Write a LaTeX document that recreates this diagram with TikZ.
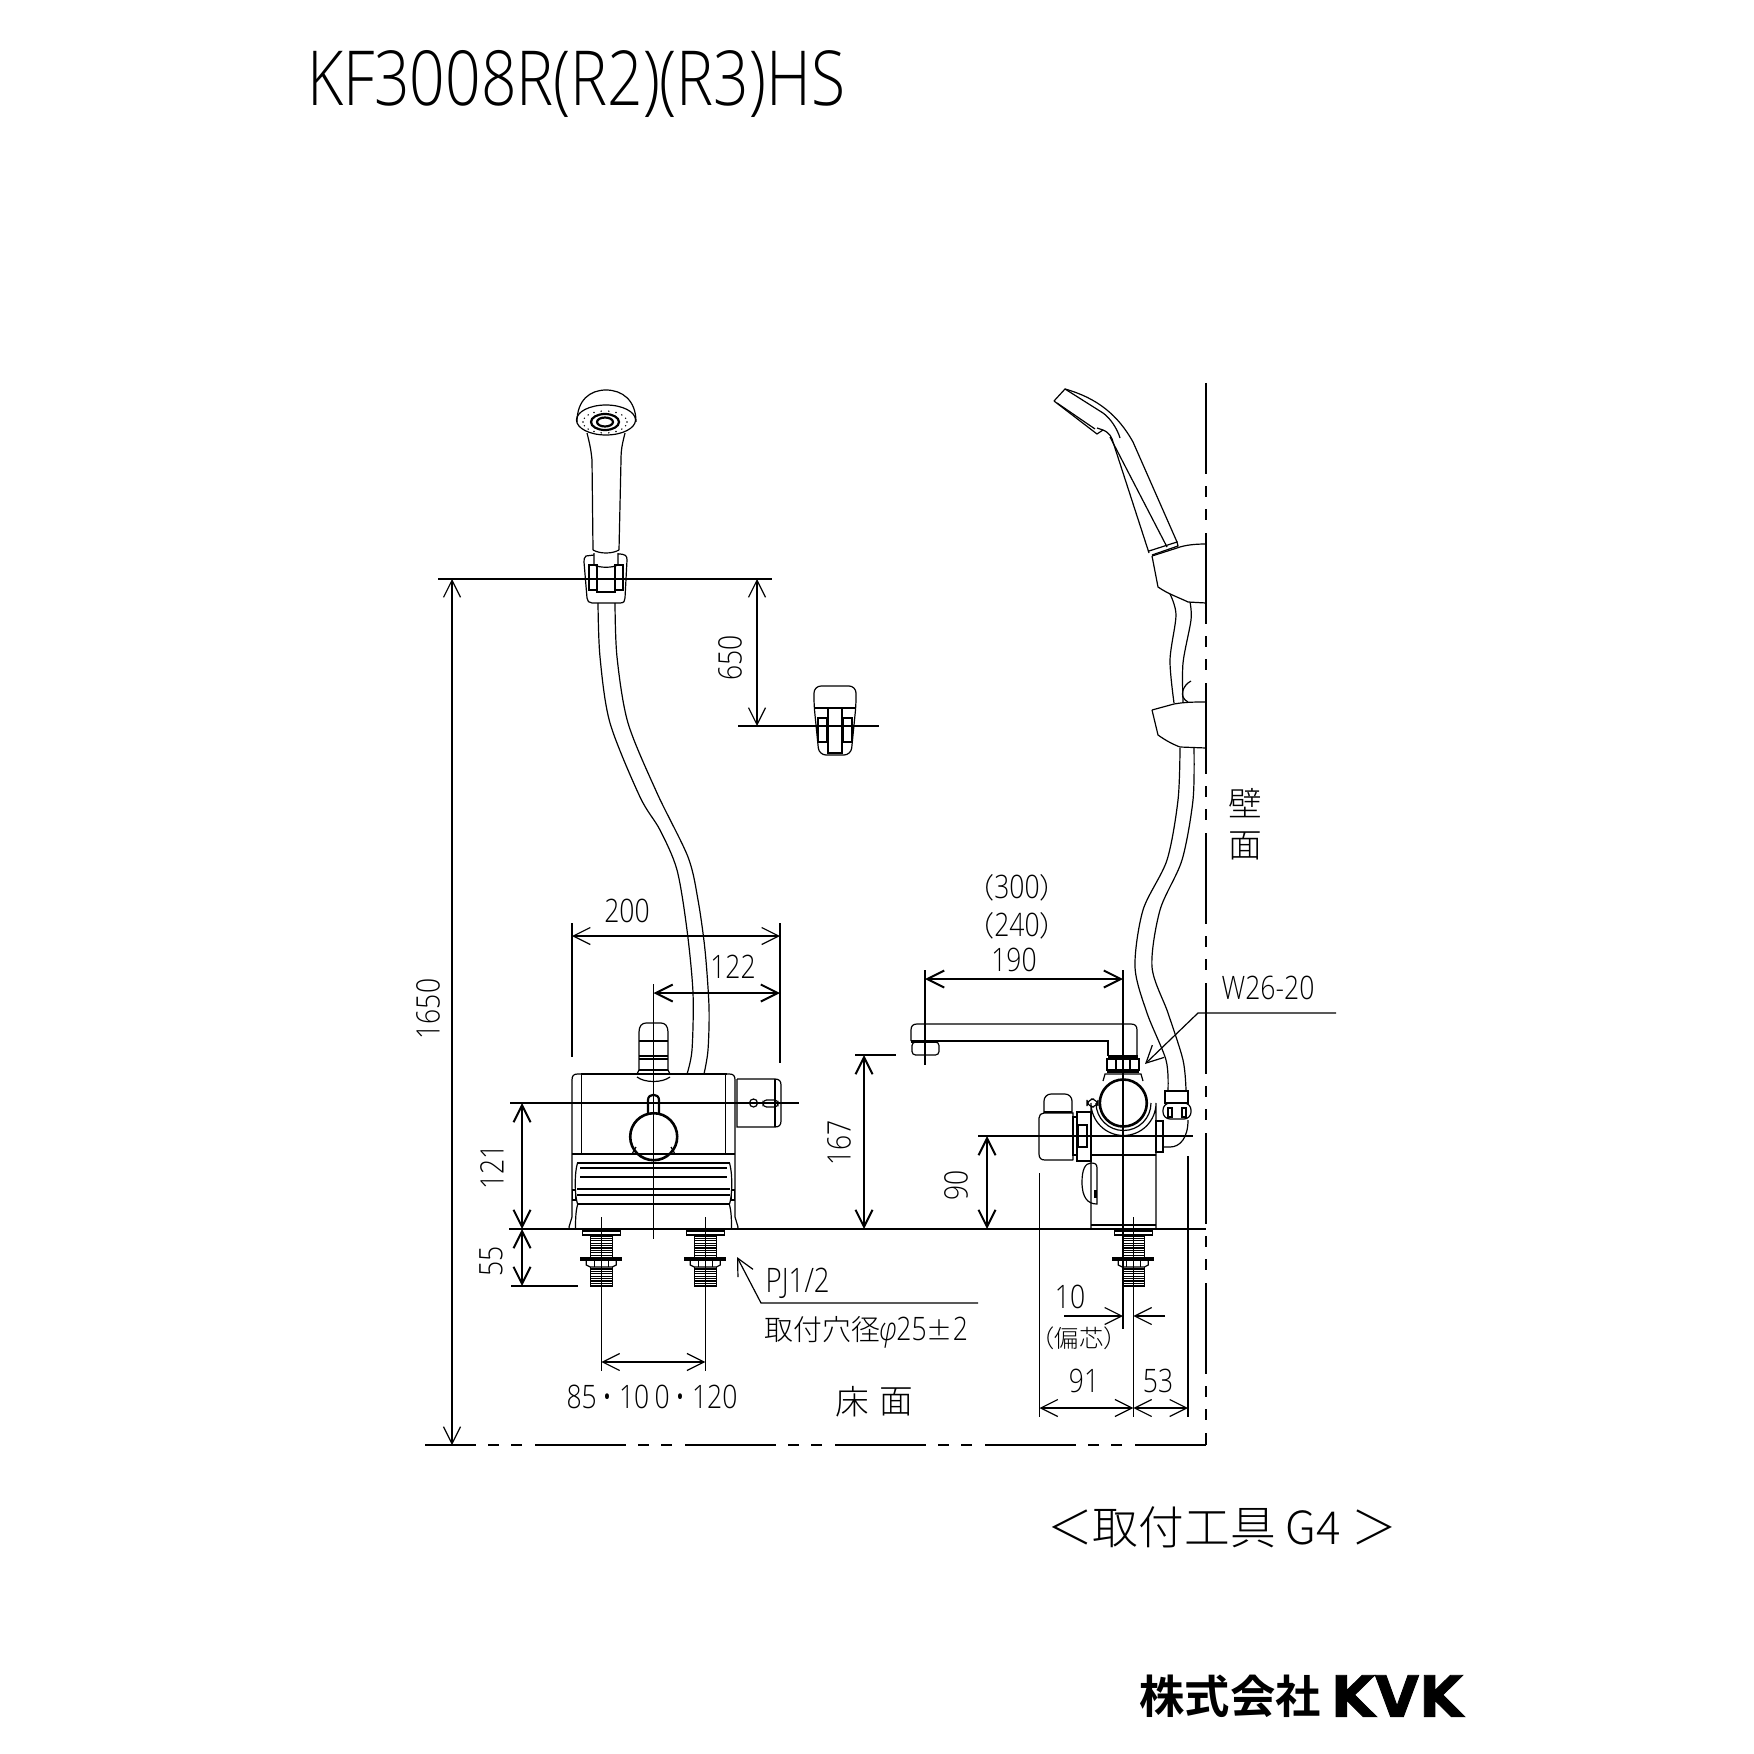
\documentclass[tikz,border=0pt]{standalone}
\usepackage{fontspec}
\setmainfont{Open Sans Light}[FakeStretch=0.82]
\newfontfamily\jpfont{Noto Sans CJK JP Light}
\newfontfamily\jpbold{Noto Sans CJK JP Bold}
\newfontfamily\logofont{DejaVu Sans Bold}[FakeStretch=1,FakeBold=1.5]
\usetikzlibrary{arrows.meta}
\tikzset{
  part/.style={line width=.12mm},
  heavy/.style={line width=.22mm},
  dimthin/.style={line width=.12mm,{Straight Barb[length=1.7mm,width=1.7mm]}-{Straight Barb[length=1.7mm,width=1.7mm]}},
  dimbold/.style={line width=.2mm,{Straight Barb[length=1.7mm,width=1.7mm]}-{Straight Barb[length=1.7mm,width=1.7mm]}},
  numlabel/.style={inner sep=0pt,font=\fontsize{9.2pt}{11pt}\selectfont},
  jplabel/.style={inner sep=0pt,font=\jpfont\fontsize{9.6pt}{12pt}\selectfont},
}
\begin{document}
\begin{tikzpicture}[x=0.1mm,y=-0.1mm]
        \useasboundingbox (0,0) rectangle (1754,1754);

        % title and company name
        \node[inner sep=0pt,font=\fontsize{21.6pt}{24pt}\selectfont] (title) at (576,84) {KF3008R(R2)(R3)HS};
        \node[inner sep=0pt,font=\jpfont\fontsize{13pt}{15pt}\selectfont] (toolnote) at (1222,1527) {＜取付工具 G4 ＞};
        \node[inner sep=0pt,font=\jpbold\fontsize{12.9pt}{14pt}\selectfont] (company) at (1230,1696) {株式会社};
        \node[inner sep=0pt,font=\logofont\fontsize{16.2pt}{18pt}\selectfont] (brand) at (1397,1696) {KVK};

        % floor and wall
        \draw[heavy] (509,1229) -- (1206,1229);
        \draw[line width=.24mm,dash pattern=on 9.1mm off 1.2mm on 1.1mm off 1.2mm on 1.1mm off 1.3mm,dash phase=4mm] (425,1445) -- (1206,1445);
        \draw[line width=.24mm,dash pattern=on 9.1mm off 1.2mm on 1.1mm off 1.2mm on 1.1mm off 1.3mm] (1206,383) -- (1206,1445);
        \node[jplabel] (floorA) at (852,1402) {床};
        \node[jplabel] (floorB) at (896,1402) {面};
        \node[jplabel] (wallA) at (1245,803) {壁};
        \node[jplabel] (wallB) at (1245,846) {面};

        % overall heights
        \draw[heavy] (438,579) -- (772,579);
        \draw[heavy] (738,726) -- (879,726);
        \draw[dimthin] (452,579) -- (452,1445);
        \node[numlabel,rotate=90] (h1650) at (428,1009) {1650};
        \draw[dimthin] (757,579) -- (757,726);
        \node[numlabel,rotate=90] (h650) at (730,658) {650};

        % front view, upper shower
        \draw[part] (577,422) .. controls (577,400) and (590,390) .. (606,390) .. controls (622,390) and (636,400) .. (636,422);
        \draw[part] (606,420) ellipse (29.5 and 15);
        \draw[heavy] (605,422) ellipse (14 and 8);
        \draw[heavy] (605,422) ellipse (8 and 4.5);
        \foreach \a in {0,20,...,340} {
          \fill (605,422) ++(\a:22 and 11) circle (.8);
        }
        \draw[part] (587,433) .. controls (590,445) and (591,450) .. (592,460) -- (593,550);
        \draw[part] (625,433) .. controls (622,445) and (621,450) .. (621,460) -- (619,550);
        \draw[part] (593,550) .. controls (600,554) and (612,554) .. (619,550);
        \draw[part] (594,553) -- (594,565) .. controls (600,568) and (612,568) .. (618,565) -- (618,553);

        % front view, holder on the upper line
        \draw[part] (594,555) -- (586,556) .. controls (584,557) and (584,560) .. (584,562) -- (587,598) .. controls (587,601) and (589,603) .. (592,603) -- (620,603) .. controls (624,603) and (625,601) .. (625,598) -- (627,560) .. controls (627,556) and (626,554) .. (618,554);
        \draw[part] (597,565) -- (597,592) -- (615,592) -- (615,565);
        \draw[part] (589,565) rectangle (597,590);
        \draw[part] (615,565) rectangle (623,590);

        % front view, hose
        \draw[part] plot[smooth] coordinates {(598,603) (600,657) (610,723) (640,797) (660,830) (677,870) (687,930) (693,993) (692,1050) (687,1074)};
        \draw[part] plot[smooth] coordinates {(615,603) (617,657) (628,723) (657,793) (688,857) (698,900) (705,950) (709,1007) (708,1050) (704,1074)};

        % holder on the lower line
        \draw[part,rounded corners=2] (819,755) -- (814,705) -- (814,686) -- (856,686) -- (856,705) -- (851,755) -- cycle;
        \draw[part] (815,708) -- (855,708);
        \draw[heavy] (828,708) rectangle (842,753);
        \draw[part] (818,718) rectangle (827,742);
        \draw[part] (843,718) rectangle (852,742);

        % front view, body
        \draw[part] (581,1074) -- (727,1074);
        \foreach \mir in {1,-1} {
          \begin{scope}[shift={(653.5,0)},xscale=\mir]
            \draw[part] (-72,1074) -- (-72,1154);
            \draw[part] (-81.5,1080) .. controls (-81.5,1076) and (-80,1074) .. (-76,1074) -- (-72,1074);
            \draw[part] (-81.5,1080) -- (-81.5,1217) -- (-84.5,1227) -- (-84,1229);
            \draw[part] (-76,1205) .. controls (-78,1212) and (-78,1222) .. (-78,1229);
            \draw[part] (-76,1163) .. controls (-79,1172) and (-79,1195) .. (-76,1204);
            \draw[part] (-81,1190) rectangle (-78,1200);
          \end{scope}
        }
        \draw[part] (572,1154) -- (735,1154);
        \foreach \yy in {1163,1189,1195,1204} {
          \draw[part] (577,\yy) -- (730,\yy);
        }
        \foreach \yy in {1168,1177} {
          \draw[heavy] (580,\yy) -- (727,\yy);
        }

        % front view, handle
        \draw[line width=.26mm] (653.7,1136.7) circle (23.5);
        \draw[heavy] (648,1113) -- (648,1100) .. controls (648,1093) and (659,1093) .. (659,1100) -- (659,1113);
        \draw[part] (632,1154) -- (636,1147);
        \draw[part] (675,1154) -- (671,1147);

        % front view, top cartridge
        \draw[part] (639,1070) -- (639,1032) .. controls (639,1026) and (642,1023) .. (646,1023) -- (661,1023) .. controls (665,1023) and (668,1026) .. (668,1032) -- (668,1070);
        \foreach \yy in {1041,1056,1070} {
          \draw[heavy] (639,\yy) -- (668,\yy);
        }
        \draw[part] (639,1059) -- (668,1059);
        \draw[part] (637,1074) -- (639,1070);
        \draw[part] (670,1074) -- (668,1070);
        \draw[part] (637,1077) .. controls (645,1083) and (662,1083) .. (670,1077);

        % front view, side knob
        \draw[part] (737,1079) -- (775,1079) .. controls (779,1079) and (781,1081) .. (781,1085) -- (781,1121) .. controls (781,1125) and (779,1127) .. (775,1127) -- (737,1127) -- (737,1079);
        \draw[part] (775,1079) -- (775,1127);
        \draw[part] (753.5,1103) circle (4);
        \draw[part,rounded corners=1] (763,1100) rectangle (778,1107);

        % front view, legs and right side view leg
        \foreach \cx in {601.3,705.3,1133.3} {
          \begin{scope}[shift={(\cx,1229)}]
            \draw[part] (-19,2) rectangle (19,6);
            \foreach \yy in {7,9.4,...,27} {
              \draw[part] (-11,\yy) -- (11,\yy);
            }
            \draw[part] (-11,6) -- (-11,28);
            \draw[part] (11,6) -- (11,28);
            \fill (-21,28) rectangle (21,31.5);
            \draw[part] (-15,32) -- (-15,36) -- (-11,38) -- (11,38) -- (15,36) -- (15,32);
            \draw[part] (-7,32) -- (-7,38);
            \draw[part] (7,32) -- (7,38);
            \foreach \yy in {40,42.4,...,56} {
              \draw[part] (-11,\yy) -- (11,\yy);
            }
            \draw[part] (-11,38) -- (-11,57) -- (11,57) -- (11,38);
          \end{scope}
        }

        % front view, dimensions
        \draw[part] (572,923) -- (572,1057);
        \draw[part] (780,923) -- (780,1063);
        \draw[dimthin] (572,936) -- (780,936);
        \node[numlabel] (w200) at (627,911) {200};
        \draw[part] (653.5,984) -- (653.5,1239);
        \draw[dimbold] (653.5,993) -- (780,993);
        \node[numlabel] (w122) at (733,967) {122};
        \draw[part] (510,1103) -- (799,1103);
        \draw[dimbold] (522,1103) -- (522,1229);
        \node[numlabel,rotate=90] (h121) at (492,1167) {121};
        \draw[part] (511,1286) -- (578,1286);
        \draw[dimbold] (522,1229) -- (522,1286);
        \node[numlabel,rotate=90] (h55) at (491,1261) {55};
        \draw[part] (601.3,1217) -- (601.3,1371);
        \draw[part] (705.3,1217) -- (705.3,1371);
        \draw[dimthin] (601.3,1362) -- (705.3,1362);
        \node[numlabel] (pitch) at (652,1397) {85\,• 10\,0\,• 120};

        % mounting note
        \draw[part,{Straight Barb[length=1.7mm,width=1.7mm]}-] (737,1257) -- (761,1303) -- (978,1303);
        \node[numlabel,anchor=base west,font=\fontsize{9.6pt}{11pt}\selectfont] (pj) at (765,1292) {PJ1/2};
        \node[numlabel,anchor=base west] (holenote) at (764,1340) {{\jpfont\fontsize{8.2pt}{10pt}\selectfont 取付穴径}\textit{φ}25{\jpfont\fontsize{7.4pt}{10pt}\selectfont ±}2};

        % side view, shower
        \draw[part] (1054,401) -- (1065,389) .. controls (1097,398) and (1118,415) .. (1133,442) -- (1177,542);
        \draw[part] (1054,401) -- (1097,434) -- (1103,430);
        \draw[part] (1057,403) -- (1095,429);
        \draw[part] (1065,389) -- (1103,413) .. controls (1110,418) and (1117,428) .. (1120,438);
        \draw[part] (1097,428) -- (1103,430) .. controls (1110,433) and (1112,438) .. (1113,442) -- (1149,553);
        \draw[part] (1110,437) -- (1167,547);
        \draw[part] (1149,551) -- (1177,542) -- (1178,546) -- (1152,555);

        % side view, slide bar brackets
        \draw[part] (1152,556) -- (1158,587) .. controls (1168,594) and (1180,598) .. (1188,602) -- (1206,603);
        \draw[part] (1152,556) -- (1177,548) .. controls (1185,545) and (1195,544) .. (1206,544);
        \draw[part] (1152,710) -- (1158,735) .. controls (1165,740) and (1172,744) .. (1180,747) -- (1206,748);
        \draw[part] (1152,710) -- (1174,704) .. controls (1185,702) and (1195,702) .. (1206,702);
        \draw[part] plot[smooth] coordinates {(1170,594) (1176,615) (1170,660) (1174,703)};
        \draw[part] plot[smooth] coordinates {(1190,602) (1191,620) (1183,663) (1183,702)};
        \draw[part] (1191,681) .. controls (1183,685) and (1178,697) .. (1188,702);

        % side view, hose
        \draw[part] plot[smooth] coordinates {(1180,748) (1178,800) (1167,860) (1143,910) (1135,967) (1147,1013) (1166,1060) (1168,1090)};
        \draw[part] plot[smooth] coordinates {(1194,748) (1193,800) (1182,860) (1160,910) (1152,967) (1168,1013) (1183,1060) (1186,1090)};

        % side view, spout
        \draw[part] (911,1041) -- (911,1030) .. controls (911,1026) and (913,1024) .. (917,1024) -- (1131,1024) .. controls (1135,1024) and (1137,1026) .. (1137,1030) -- (1137,1056);
        \draw[part] (911,1041) -- (1108,1041) -- (1108,1056);
        \draw[heavy] (911,1042) -- (938,1042);
        \draw[part,rounded corners=1] (912,1042) rectangle (939,1055);
        \draw[line width=.4mm] (1108,1057) -- (1138,1057);
        \draw[part] (1107,1059) rectangle (1139,1070);
        \draw[part] (1116,1059) -- (1116,1070);
        \draw[part] (1130,1059) -- (1130,1070);
        \draw[line width=.35mm] (1107,1071.5) -- (1139,1071.5);
        \draw[part] (1103,1081) -- (1105,1074) -- (1141,1074) -- (1143,1081);

        % side view, valve body
        \draw[part] (1091,1228) -- (1091,1103) arc[start angle=180,end angle=0,radius=32.5] -- (1156,1228);
        \draw[part] (1091,1225) -- (1156,1225);
        \draw[part] (1091,1155) -- (1156,1155);
        \draw[part] (1096,1103) arc[start angle=180,end angle=0,radius=27.5];
        \draw[line width=.26mm] (1123.3,1103) circle (23.5);
        \draw[part,rounded corners=2] (1087,1099) rectangle (1098,1107);

        % side view, left knob
        \draw[part] (1073,1160) -- (1045,1160) .. controls (1041,1160) and (1039,1158) .. (1039,1154) -- (1039,1118) .. controls (1039,1115) and (1041,1113) .. (1044,1113) -- (1073,1113) -- (1073,1160);
        \draw[part,rounded corners=2] (1044,1113) -- (1044,1094) -- (1072,1094) -- (1072,1113);
        \draw[heavy] (1044,1112) -- (1072,1112);
        \draw[part] (1073,1117) rectangle (1077,1155);
        \draw[part] (1077,1112) rectangle (1091,1161);
        \draw[part] (1078,1125) rectangle (1087,1147);
        \draw[part] (1091,1163) .. controls (1085,1163) and (1082,1170) .. (1082,1182) .. controls (1082,1198) and (1088,1204) .. (1097,1204) -- (1097,1168) .. controls (1097,1164) and (1095,1163) .. (1091,1163);
        \draw[heavy] (1095.5,1190) -- (1095.5,1198);

        % side view, hose connection
        \draw[part] (1156,1121) rectangle (1163,1152);
        \draw[part] (1163,1147) -- (1170,1147) .. controls (1180,1147) and (1188,1138) .. (1188,1120);
        \draw[part] (1165,1091) rectangle (1188,1103);
        \draw[part,rounded corners=2] (1163,1103) rectangle (1191,1119);
        \draw[part] (1168,1108) rectangle (1172,1117);
        \draw[part] (1182,1108) rectangle (1186,1117);

        % side view, dimensions
        \draw[part] (925,970) -- (925,1065);
        \draw[heavy] (1123,970) -- (1123,1329);
        \draw[dimbold] (925,979) -- (1123,979);
        \node[numlabel] (w190) at (1014,960) {190};
        \node[numlabel,anchor=base] (w240) at (1017,936) {{\jpfont\fontsize{8pt}{10pt}\selectfont（}240{\jpfont\fontsize{8pt}{10pt}\selectfont ）}};
        \node[numlabel,anchor=base] (w300) at (1017,898) {{\jpfont\fontsize{8pt}{10pt}\selectfont（}300{\jpfont\fontsize{8pt}{10pt}\selectfont ）}};
        \draw[part] (855,1055) -- (896,1055);
        \draw[dimbold] (864,1055) -- (864,1229);
        \node[numlabel,rotate=90] (h167) at (839,1143) {167};
        \draw[heavy] (978,1136) -- (1193,1136);
        \draw[dimbold] (987,1136) -- (987,1229);
        \node[numlabel,rotate=90] (h90) at (956,1185) {90};
        \draw[part] (1039.5,1173) -- (1039.5,1417);
        \draw[part] (1133.3,1217) -- (1133.3,1417);
        \draw[heavy] (1188,1156) -- (1188,1417);
        \draw[dimthin] (1039.5,1408) -- (1133.3,1408);
        \draw[dimthin] (1133.3,1408) -- (1188,1408);
        \node[numlabel] (w91) at (1084,1381) {91};
        \node[numlabel] (w53) at (1158,1381) {53};

        % eccentric offset
        \draw[part,-{Straight Barb[length=1.7mm,width=1.7mm]}] (1064,1316) -- (1123,1316);
        \draw[part,-{Straight Barb[length=1.7mm,width=1.7mm]}] (1165,1316) -- (1133.3,1316);
        \node[numlabel] (off10) at (1070,1297) {10};
        \node[inner sep=0pt,font=\jpfont\fontsize{6.9pt}{8pt}\selectfont] (offnote) at (1079,1338) {（偏芯）};

        % hose thread note
        \draw[part,{Straight Barb[length=1.7mm,width=1.7mm]}-] (1145,1064) -- (1198,1013) -- (1336,1013);
        \node[numlabel] (thread) at (1268,988) {W26-20};

\end{tikzpicture}
\end{document}
